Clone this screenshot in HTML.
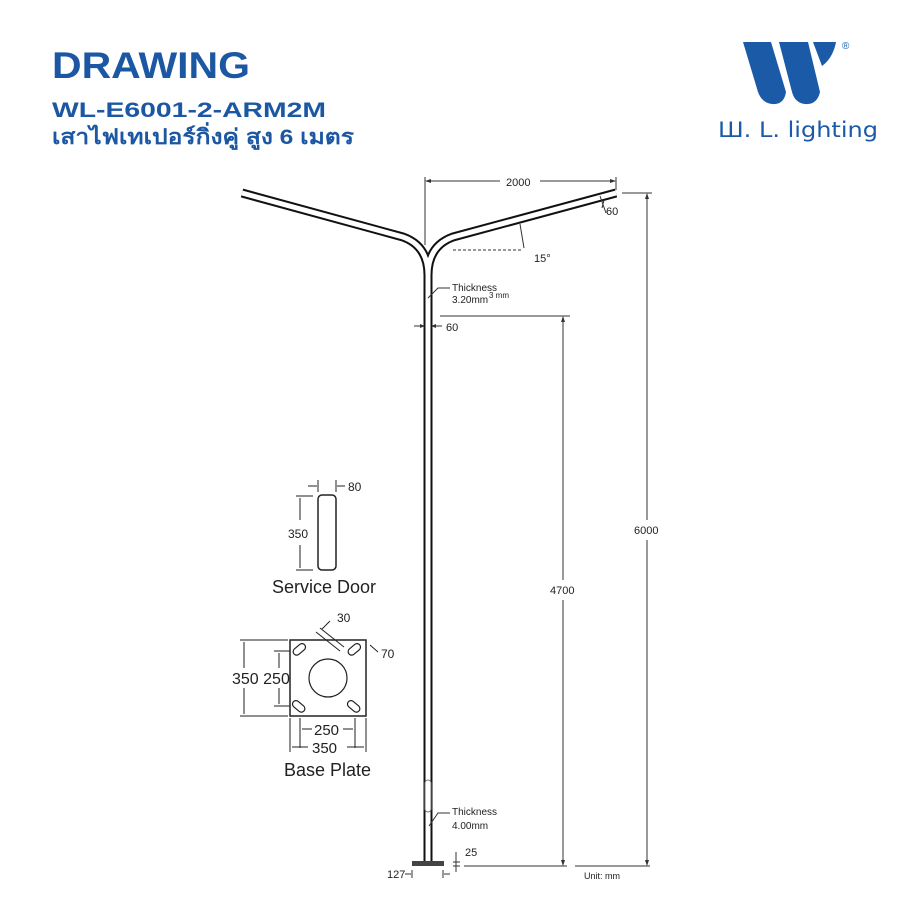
<!DOCTYPE html>
<html><head><meta charset="utf-8"><style>
body{margin:0;background:#fff;width:900px;height:900px;overflow:hidden}
svg{display:block}
</style></head><body>
<svg width="900" height="900" viewBox="0 0 900 900" xmlns="http://www.w3.org/2000/svg">
<text x="52" y="78" font-family="Liberation Sans, sans-serif" font-weight="bold" font-size="37" fill="#1b57a3" textLength="198" lengthAdjust="spacingAndGlyphs">DRAWING</text>
<text x="52" y="117" font-family="Liberation Sans, sans-serif" font-weight="bold" font-size="21" fill="#1b57a3" textLength="274" lengthAdjust="spacingAndGlyphs">WL-E6001-2-ARM2M</text>
<text x="52" y="144" font-family="Liberation Sans, 'Noto Sans CJK SC', sans-serif" font-weight="bold" font-size="21" fill="#1b57a3" textLength="302" lengthAdjust="spacingAndGlyphs">เสาไฟเทเปอร์กิ่งคู่ สูง 6 เมตร</text>
<!-- logo -->
<g fill="#1b5aa6">
<path d="M743 42 L771 42 L786 92 Q784 105 772 104 Q762 103 758 92 Z"/>
<path d="M779 42 L808 42 L820 92 Q817 105 805 104 Q795 103 792 92 Z"/>
<path d="M813 42 L836 42 Q833 58 822 66 Z"/>
</g>
<text x="842" y="49" font-family="Liberation Sans, sans-serif" font-size="10" fill="#1b5aa6">®</text>
<text x="718" y="137" font-family="DejaVu Sans, sans-serif" font-size="21" fill="#1b5aa6" textLength="160" lengthAdjust="spacingAndGlyphs">Ш. L. lighting</text>
<g fill="none" stroke-linejoin="round">
<path d="M242 193 L403 237 Q428 246 428 275 L428 862 M616 193 L453 237 Q428 246 428 275" stroke="#111" stroke-width="9"/>
<path d="M242 193 L403 237 Q428 246 428 275 L428 862 M616 193 L453 237 Q428 246 428 275" stroke="#fff" stroke-width="5"/>
</g>
<rect x="412" y="861" width="32" height="5" fill="#444"/>
<rect x="425" y="780" width="6" height="32" rx="3" fill="none" stroke="#777" stroke-width="1"/>
<g stroke="#333" stroke-width="1" fill="none">
<line x1="425" y1="177" x2="425" y2="245"/><line x1="616" y1="177" x2="616" y2="190"/>
<line x1="426" y1="181" x2="500" y2="181"/><line x1="540" y1="181" x2="615" y2="181"/>
<line x1="453" y1="250" x2="522" y2="250" stroke-dasharray="3 2"/>
<path d="M520 224 L524 248"/>
<line x1="622" y1="193" x2="652" y2="193"/><line x1="647" y1="194" x2="647" y2="520"/><line x1="647" y1="540" x2="647" y2="865"/>
<line x1="440" y1="316" x2="570" y2="316"/><line x1="563" y1="317" x2="563" y2="580"/><line x1="563" y1="600" x2="563" y2="865"/>
<line x1="464" y1="866" x2="567" y2="866"/><line x1="575" y1="866" x2="650" y2="866"/>
<line x1="414" y1="326" x2="423" y2="326"/><line x1="434" y1="326" x2="442" y2="326"/>
<path d="M428 298 L438 288 L450 288"/><path d="M429 826 L438 813 L450 813"/>
<line x1="453" y1="862" x2="460" y2="862"/><line x1="453" y1="866" x2="460" y2="866"/><line x1="456" y1="852" x2="456" y2="872"/>
<line x1="412" y1="870" x2="412" y2="878"/><line x1="443" y1="870" x2="443" y2="878"/><line x1="405" y1="874" x2="411" y2="874"/><line x1="444" y1="874" x2="450" y2="874"/>
<path d="M604 200 L602 208" /><path d="M600 196 L606 213"/>
</g>
<g fill="#333">
<path d="M425 181 l6 -2 v4z"/><path d="M616 181 l-6 -2 v4z"/>
<path d="M647 193 l-2 6 h4z"/><path d="M647 866 l-2 -6 h4z"/>
<path d="M563 316 l-2 6 h4z"/><path d="M563 866 l-2 -6 h4z"/>
<path d="M425 326 l-5 -2 v4z"/><path d="M431 326 l5 -2 v4z"/>
</g>
<g font-family="Liberation Sans, sans-serif" font-size="11" fill="#222">
<text x="506" y="186">2000</text>
<text x="606" y="215">60</text>
<text x="534" y="262">15°</text>
<text x="452" y="291" font-size="10">Thickness</text>
<text x="452" y="303" font-size="10">3.20mm</text><text x="489" y="298" font-size="8">3 mm</text>
<text x="446" y="331">60</text>
<text x="634" y="534">6000</text>
<text x="550" y="594">4700</text>
<text x="452" y="815" font-size="10">Thickness</text>
<text x="452" y="829" font-size="10">4.00mm</text>
<text x="465" y="856">25</text>
<text x="387" y="878">127</text>
<text x="584" y="879" font-size="9">Unit: mm</text>
</g>
<g stroke="#222" fill="none" stroke-width="1">
<rect x="318" y="495" width="18" height="75" rx="4" stroke-width="1.5"/>
<line x1="296" y1="496" x2="313" y2="496"/><line x1="296" y1="570" x2="313" y2="570"/>
<line x1="300" y1="498" x2="300" y2="520"/><line x1="300" y1="545" x2="300" y2="568"/>
<line x1="318" y1="480" x2="318" y2="492"/><line x1="336" y1="480" x2="336" y2="492"/>
<line x1="308" y1="486" x2="317" y2="486"/><line x1="337" y1="486" x2="345" y2="486"/>
<rect x="290" y="640" width="76" height="76" stroke-width="1.5"/>
<circle cx="328" cy="678" r="19" stroke-width="1.2"/>
<g stroke-width="1.2">
<rect x="292" y="646" width="14" height="7" rx="3.5" transform="rotate(-40 299 649)"/>
<rect x="347" y="646" width="14" height="7" rx="3.5" transform="rotate(-40 354 649)"/>
<rect x="292" y="703" width="14" height="7" rx="3.5" transform="rotate(40 299 706)"/>
<rect x="347" y="703" width="14" height="7" rx="3.5" transform="rotate(40 354 706)"/>
</g>
<line x1="240" y1="640" x2="288" y2="640"/><line x1="240" y1="716" x2="288" y2="716"/>
<line x1="244" y1="642" x2="244" y2="668"/><line x1="244" y1="688" x2="244" y2="714"/>
<line x1="274" y1="651" x2="290" y2="651"/><line x1="274" y1="706" x2="290" y2="706"/>
<line x1="279" y1="653" x2="279" y2="668"/><line x1="279" y1="688" x2="279" y2="704"/>
<line x1="300" y1="718" x2="300" y2="748"/><line x1="355" y1="718" x2="355" y2="748"/>
<line x1="290" y1="718" x2="290" y2="752"/><line x1="366" y1="718" x2="366" y2="752"/>
<line x1="302" y1="729" x2="312" y2="729"/><line x1="343" y1="729" x2="353" y2="729"/>
<line x1="292" y1="747" x2="308" y2="747"/><line x1="347" y1="747" x2="364" y2="747"/>
<line x1="316" y1="632" x2="340" y2="651"/><line x1="320" y1="628" x2="344" y2="647"/>
<line x1="322" y1="629" x2="330" y2="621"/>
<line x1="370" y1="645" x2="378" y2="652"/>
</g>
<g font-family="Liberation Sans, sans-serif" fill="#222">
<text x="348" y="491" font-size="12">80</text>
<text x="288" y="538" font-size="12">350</text>
<text x="272" y="593" font-size="18">Service Door</text>
<text x="337" y="622" font-size="12">30</text>
<text x="381" y="658" font-size="12">70</text>
<text x="232" y="684" font-size="16">350 250</text>
<text x="314" y="735" font-size="15">250</text>
<text x="312" y="753" font-size="15">350</text>
<text x="284" y="776" font-size="18">Base Plate</text>
</g>
</svg>
</body></html>
